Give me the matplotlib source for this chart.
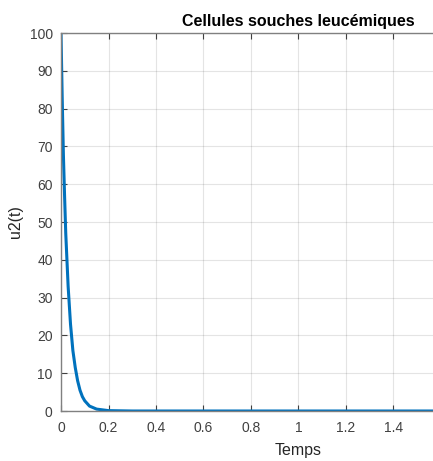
import matplotlib.pyplot as plt

# values
temps = [0, 0.005, 0.01, 0.015, 0.02, 0.025, 0.03, 0.035, 0.04, 0.045, 0.05,
         0.06, 0.07, 0.08, 0.09, 0.10, 0.12, 0.15, 0.2, 0.3, 0.5, 1.0, 1.5, 2.0]
u2 = [100, 83, 68, 57, 47, 40, 33, 28, 23, 19.5, 16,
      11.5, 8, 5.5, 3.8, 2.7, 1.3, 0.5, 0.1, 0, 0, 0, 0, 0]

xticks = [0, 0.2, 0.4, 0.6, 0.8, 1, 1.2, 1.4, 1.6, 1.8, 2]
# labels past 1.4 fall outside the cropped picture
xtick_labels = ['0', '0.2', '0.4', '0.6', '0.8', '1', '1.2', '1.4', '', '', '']
yticks = list(range(0, 101, 10))

plt.rcParams['font.family'] = ['Liberation Sans', 'DejaVu Sans']

fig = plt.figure(figsize=(4.33, 4.61), dpi=100)
ax = fig.add_axes([61 / 433, 50 / 461, 475 / 433, 378 / 461])

ax.plot(temps, u2, color='#0072BD', linewidth=2.2, solid_capstyle='butt')

ax.set_xlim(0, 2)
ax.set_ylim(0, 100)
ax.set_xticks(xticks)
ax.set_xticklabels(xtick_labels)
ax.set_yticks(yticks)

ax.grid(True, color='#262626', alpha=0.12, linewidth=0.8)
ax.tick_params(direction='in', length=4, width=0.8, colors='#404040',
               labelsize=10, top=True, right=True)
ax.tick_params(axis='x', pad=7)
ax.tick_params(axis='y', pad=6)
for s in ax.spines.values():
    s.set_color('#808080')
    s.set_linewidth(1.0)

ax.set_xlabel('Temps', fontsize=11.5, color='#262626', labelpad=6)
ax.set_ylabel('u2(t)', fontsize=11.5, color='#262626', labelpad=5)
ax.set_title('Cellules souches leucémiques', fontsize=11.5, fontweight='bold',
             color='black', pad=5)

fig.savefig('out.png', dpi=100)
